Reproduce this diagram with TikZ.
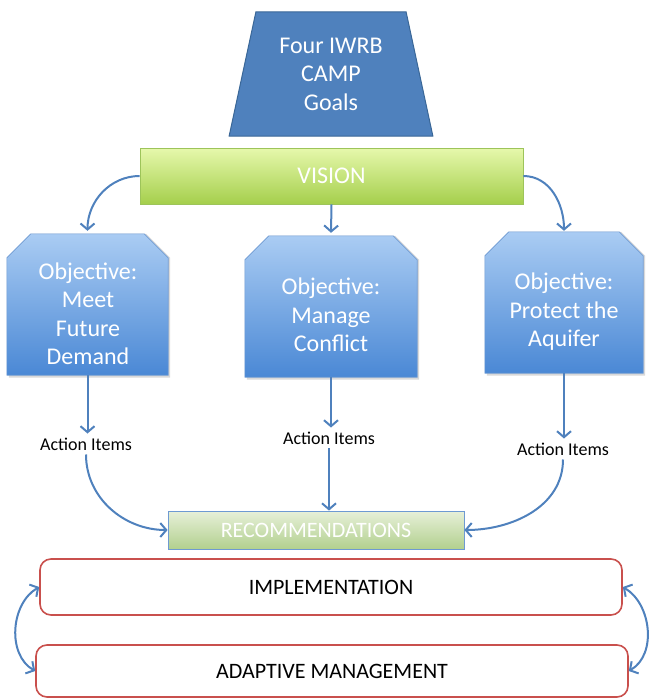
\documentclass[tikz,border=0pt]{standalone}
\usepackage{fontspec}
\setmainfont{Carlito}
\usetikzlibrary{arrows.meta,shapes.geometric}
\definecolor{goalblue}{HTML}{4F81BD}
\definecolor{goaldark}{HTML}{3A6797}
\definecolor{linkblue}{HTML}{4F81BD}
\definecolor{objtop}{HTML}{AACCF3}
\definecolor{objbot}{HTML}{4A88D5}
\definecolor{objline}{HTML}{6E9AD2}
\definecolor{vistop}{HTML}{E6F8AC}
\definecolor{visbot}{HTML}{A5CF4C}
\definecolor{visline}{HTML}{9DC45A}
\definecolor{rectop}{HTML}{E7F0D9}
\definecolor{recbot}{HTML}{B2D08E}
\definecolor{redline}{HTML}{C9504D}

\begin{document}
\begin{tikzpicture}[x=1pt,y=-1pt,>={Straight Barb[length=6pt,width=14pt]}]
  \tikzstyle{whitetext} = [text=white, align=center,
    font=\fontsize{24}{28.5}\selectfont]
  \tikzstyle{goal} = [trapezium, trapezium left angle=76, trapezium right angle=76,
    trapezium stretches=true, minimum width=204pt, minimum height=124pt,
    fill=goalblue, draw=goaldark, line width=1pt, inner sep=2pt, whitetext]
  \tikzstyle{greenbar} = [rectangle, top color=vistop, bottom color=visbot,
    draw=visline, line width=0.8pt, inner sep=0pt]
  \tikzstyle{objslot} = [rectangle, inner sep=0pt, minimum height=141pt]
  \tikzstyle{objfill} = [top color=objtop, bottom color=objbot, draw=objline,
    line width=0.6pt]
  \tikzstyle{action} = [font=\fontsize{18}{20}\selectfont, inner sep=4pt]
  \tikzstyle{phase} = [rectangle, rounded corners=11pt, draw=redline,
    line width=1.6pt, fill=white, inner sep=0pt,
    font=\fontsize{22}{24}\selectfont]
  \tikzstyle{link} = [->, draw=linkblue, line width=2pt]

  \useasboundingbox (0,0) rectangle (650,698);

  \node[goal] (goals) at (331,74) {Four IWRB\\CAMP\\Goals};

  \node[greenbar, minimum width=383pt, minimum height=56pt] (vision) at (331.5,176)
    {\textcolor{white}{\fontsize{24}{28}\selectfont VISION}};

  \node[objslot, minimum width=161pt] (obj1) at (87.5,304.5) {};
  \node[objslot, minimum width=172pt] (obj2) at (331,306.5) {};
  \node[objslot, minimum width=158pt] (obj3) at (564,302.5) {};
  \foreach \o in {obj1,obj2,obj3} {
    \fill[black, opacity=0.15] ([shift={(2pt,-2.5pt)}]\o.south west)
      -- ([shift={(2pt,-24pt)}]\o.north west) -- ([xshift=24pt]\o.north west)
      -- ([xshift=-22pt]\o.north east) -- ([shift={(2pt,-24pt)}]\o.north east)
      -- ([shift={(2pt,-2.5pt)}]\o.south east) -- cycle;
    \shade[objfill] (\o.south west) -- ([yshift=-24pt]\o.north west)
      -- ([xshift=24pt]\o.north west) -- ([xshift=-24pt]\o.north east)
      -- ([yshift=-24pt]\o.north east) -- (\o.south east) -- cycle;
  }
  \node[whitetext] (obj1text) at (88,314) {Objective:\\Meet\\Future\\Demand};
  \node[whitetext] (obj2text) at (331,315) {Objective:\\Manage\\Conflict};
  \node[whitetext] (obj3text) at (564,312) {Objective:\\Protect the\\Aquifer};

  \node[action] (act1) at (86,444) {Action Items};
  \node[action] (act2) at (329,438) {Action Items};
  \node[action] (act3) at (563,449) {Action Items};

  \node[greenbar, draw=objline, top color=rectop, bottom color=recbot,
    minimum width=296pt, minimum height=38pt] (rec) at (316,530)
    {\textcolor{white}{\fontsize{22}{24}\selectfont RECOMMENDATIONS}};

  \node[phase, minimum width=582pt, minimum height=56pt] (impl) at (331,587)
    {IMPLEMENTATION};
  \node[phase, minimum width=592pt, minimum height=52pt] (adapt) at (332,671)
    {ADAPTIVE MANAGEMENT};

  \draw[link] (vision.west) to[out=180,in=90] ([yshift=3pt]obj1.north);
  \draw[link] (vision.south) -- ([yshift=3pt]obj2.north);
  \draw[link] (vision.east) to[out=0,in=90] ([yshift=1pt]obj3.north);

  \draw[link] (obj1.south) -- (obj1.south |- act1.north);
  \draw[link] (obj2.south) -- (obj2.south |- act2.north);
  \draw[link] (obj3.south) -- (obj3.south |- act3.north);

  \draw[link] (act1.south) to[out=-90,in=180] (rec.west);
  \draw[link] (act2.south) -- (act2.south |- rec.north);
  \draw[link] (act3.south) to[out=-90,in=0] (rec.east);

  \draw[link, <->] (impl.west) to[out=210,in=150] (adapt.west);
  \draw[link, <->] (impl.east) to[out=-30,in=30] (adapt.east);
\end{tikzpicture}
\end{document}
